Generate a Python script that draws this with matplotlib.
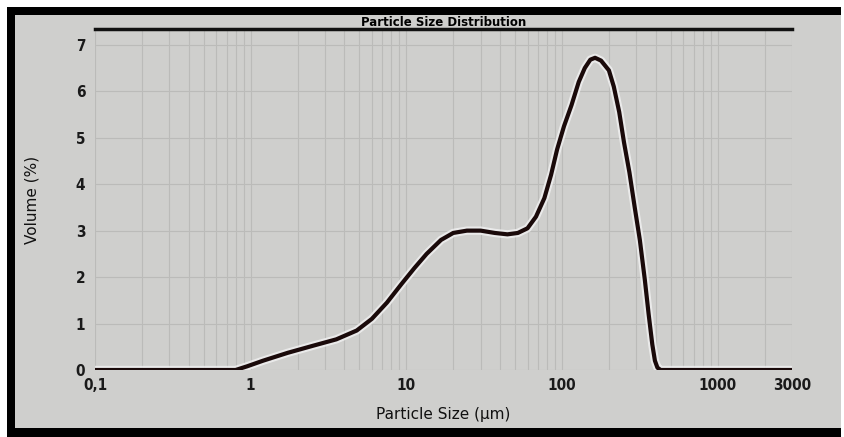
import numpy as np
import matplotlib.pyplot as plt
import matplotlib.patheffects as pe
from matplotlib.patches import Rectangle
from matplotlib.ticker import FixedLocator, LogLocator, NullFormatter

# Values (particle size in um, volume in %)
size_um = [0.1, 0.5, 0.8, 0.95, 1.2, 1.73, 2.5, 3.55, 4.8, 6.0, 7.5, 9.3,
           11.3, 13.5, 16.7, 20, 24.5, 30, 37, 44.6, 52, 60, 68, 77, 85, 93,
           103, 115, 128, 140, 152, 163, 178, 200, 215, 233, 250, 271, 293,
           316, 340, 360, 380, 395, 410, 430, 600, 1000, 3000]
volume_pct = [0, 0, 0, 0.08, 0.2, 0.37, 0.52, 0.66, 0.85, 1.1, 1.45, 1.85,
              2.2, 2.5, 2.8, 2.95, 3.0, 3.0, 2.95, 2.92, 2.95, 3.05, 3.3, 3.7,
              4.2, 4.75, 5.25, 5.7, 6.2, 6.5, 6.68, 6.72, 6.66, 6.45, 6.1,
              5.55, 4.9, 4.25, 3.5, 2.8, 1.95, 1.2, 0.55, 0.2, 0.05, 0, 0, 0, 0]

x_ticks = [0.1, 1, 10, 100, 1000, 3000]
x_tick_labels = ['0,1', '1', '10', '100', '1000', '3000']
y_ticks = [0, 1, 2, 3, 4, 5, 6, 7]

W, H = 845, 437
fig = plt.figure(figsize=(W / 100, H / 100), dpi=100)
fig.patch.set_facecolor('white')


def px_rect(x0, y0, x1, y1, color):
    # rectangle given in pixel coords measured from the top-left corner
    fig.add_artist(Rectangle((x0 / W, 1 - y1 / H), (x1 - x0) / W, (y1 - y0) / H,
                             transform=fig.transFigure, facecolor=color,
                             edgecolor='none', zorder=-10))


# photo frame: black border with grey screen inside
px_rect(7, 7, 841, 437, 'black')
px_rect(15, 15, 841, 428, '#cfcfcd')

ax = fig.add_axes([95 / W, 1 - 370 / H, (792 - 95) / W, (370 - 29) / H])
ax.set_facecolor('#cfcfcd')
ax.set_xscale('log')
ax.set_xlim(0.1, 3000)
ax.set_ylim(0, 7.34)

# grid
ax.xaxis.set_minor_locator(LogLocator(base=10, subs=np.arange(2, 10)))
ax.xaxis.set_minor_formatter(NullFormatter())
ax.grid(True, which='both', axis='x', color='#bbbbb9', linewidth=0.8)
ax.grid(True, which='major', axis='y', color='#bbbbb9', linewidth=0.8)

ax.plot(size_um, volume_pct, color='#1a0a0a', linewidth=3.0,
        solid_capstyle='round', solid_joinstyle='round',
        path_effects=[pe.Stroke(linewidth=6, foreground='#f2f2f2', alpha=0.8), pe.Normal()],
        zorder=3)

ax.xaxis.set_major_locator(FixedLocator(x_ticks))
ax.set_xticklabels(x_tick_labels)
ax.set_yticks(y_ticks)
ax.tick_params(which='both', length=0)
ax.tick_params(axis='x', pad=6, labelsize=11)
ax.tick_params(axis='y', pad=7, labelsize=11)
for lab in ax.get_xticklabels() + ax.get_yticklabels():
    lab.set_fontweight('bold')
    lab.set_fontstretch('condensed')
    lab.set_color('#1a1a1a')

for side in ['left', 'right', 'bottom']:
    ax.spines[side].set_visible(False)
ax.spines['top'].set_linewidth(2.5)
ax.spines['top'].set_color('#111111')

ax.set_title('Particle Size Distribution', fontsize=8.5, fontweight='bold', pad=1)
ax.set_xlabel('Particle Size (\u00b5m)', fontsize=11, labelpad=10, color='#111111')
ax.set_ylabel('Volume (%)', fontsize=11, labelpad=26, color='#111111')

fig.savefig('out.png', dpi=100, facecolor=fig.get_facecolor())
